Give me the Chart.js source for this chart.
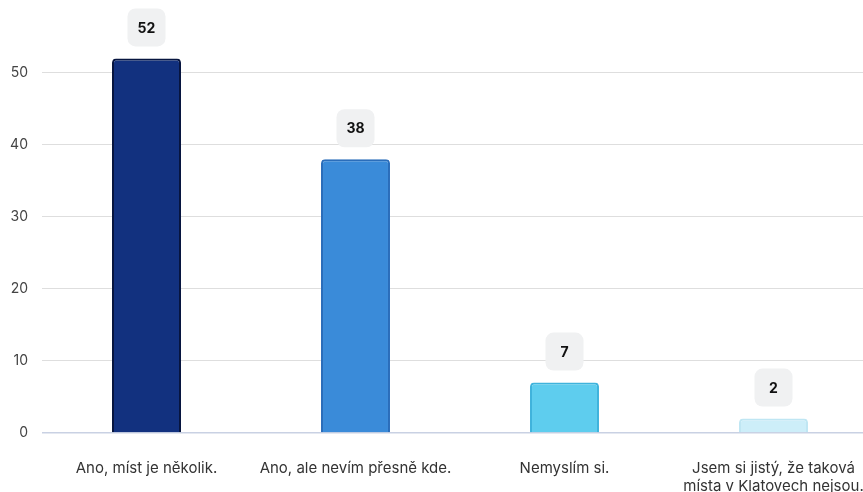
<!DOCTYPE html>
<html>
<head>
<meta charset="utf-8">
<script src="https://cdn.jsdelivr.net/npm/chart.js@4/dist/chart.umd.min.js"></script>
<style>
  html, body { margin: 0; padding: 0; background: #fff; }
  #wrap { width: 863px; height: 492px; overflow: hidden; }
</style>
</head>
<body>
<div id="wrap"><canvas id="chart" width="900" height="492"></canvas></div>
<script>
// chart data
const categories = [
  'Ano, míst je několik.',
  'Ano, ale nevím přesně kde.',
  'Nemyslím si.',
  ['Jsem si jistý, že taková', 'místa v Klatovech nejsou.']
]
const answers = [52, 38, 7, 2]
const yTicks = [0, 10, 20, 30, 40, 50]

const fillColors = ['#12317f', '#3a8bd9', '#5ecdee', '#cdeef9']
const edgeColors = ['#07153f', '#2a6dba', '#3fb3dc', '#bfe6f3']

// value badges above each bar
const badgePlugin = {
  id: 'badges',
  afterDatasetsDraw(chart) {
    const ctx = chart.ctx
    const meta = chart.getDatasetMeta(0)
    ctx.save()
    meta.data.forEach((bar, i) => {
      const w = 38, h = 38
      const x = bar.x - w / 2
      const y = bar.y - 12 - h
      ctx.fillStyle = '#f0f1f2'
      ctx.beginPath()
      ctx.roundRect(x, y, w, h, 8)
      ctx.fill()
      ctx.fillStyle = '#111'
      ctx.font = "bold 14px Inter, sans-serif"
      ctx.textAlign = 'center'
      ctx.textBaseline = 'middle'
      ctx.fillText(String(answers[i]), bar.x, y + h / 2 + 1)
    })
    ctx.restore()
  }
}

new Chart(document.getElementById('chart').getContext('2d'), {
  type: 'bar',
  data: {
    labels: categories,
    datasets: [{
      data: answers,
      backgroundColor: fillColors,
      borderColor: edgeColors,
      borderWidth: 2,
      borderRadius: 4,
      borderSkipped: 'bottom',
      categoryPercentage: 1,
      barPercentage: 0.33
    }]
  },
  options: {
    responsive: false,
    animation: false,
    layout: { padding: { top: 0, right: 22, left: 0, bottom: 0 } },
    plugins: {
      legend: { display: false },
      tooltip: { enabled: false }
    },
    scales: {
      y: {
        min: 0,
        max: 57,
        afterBuildTicks(axis) {
          axis.ticks = yTicks.map(v => ({ value: v }))
        },
        afterFit(axis) { axis.width = 42 },
        ticks: {
          color: '#444',
          padding: 14,
          font: { size: 14, family: "Inter, sans-serif" }
        },
        grid: {
          color: ctx => ctx.tick && ctx.tick.value === 0 ? '#c9d1e3' : '#dedede',
          lineWidth: ctx => ctx.tick && ctx.tick.value === 0 ? 1.5 : 1,
          drawTicks: false
        },
        border: { display: false }
      },
      x: {
        afterFit(axis) { axis.height = 59 },
        ticks: {
          color: '#333',
          padding: 18,
          maxRotation: 0,
          font: { size: 15, family: "Inter, sans-serif", lineHeight: 1.2 }
        },
        grid: { display: false },
        border: { display: false }
      }
    }
  },
  plugins: [badgePlugin]
})
</script>
</body>
</html>
